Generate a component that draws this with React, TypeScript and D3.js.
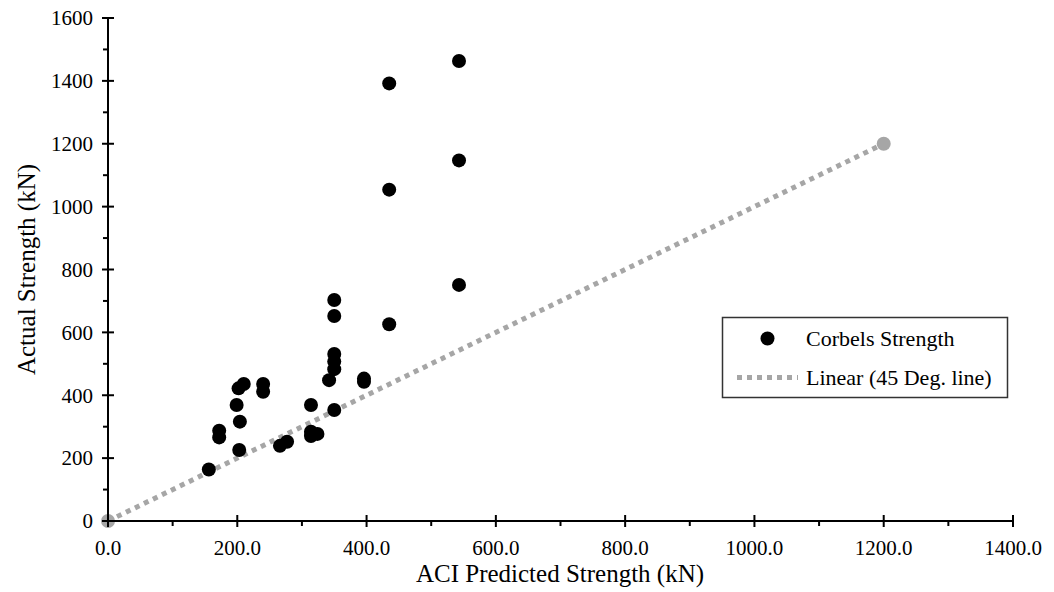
import React from "react";
import * as d3 from "d3";

const predicted = [156, 172, 172, 199, 204, 203, 202, 210, 240, 240, 266, 277, 314, 314, 324, 314, 350, 350, 350, 350, 350, 350, 342, 396, 396, 435, 435, 435, 543, 543, 543];
const actual = [164, 287, 266, 369, 316, 226, 422, 436, 436, 411, 239, 252, 369, 284, 277, 270, 703, 652, 531, 507, 483, 353, 448, 453, 443, 1392, 1054, 626, 1463, 1147, 751];
const lineX = [0, 1200];
const lineY = [0, 1200];
const xTicks = [0, 200, 400, 600, 800, 1000, 1200, 1400];
const xMinor = [100, 300, 500, 700, 900, 1100, 1300];
const yTicks = [0, 200, 400, 600, 800, 1000, 1200, 1400, 1600];
const yMinor = [100, 300, 500, 700, 900, 1100, 1300, 1500];
const seriesNames = ["Corbels Strength", "Linear (45 Deg. line)"];
const xTitle = "ACI Predicted Strength (kN)";
const yTitle = "Actual Strength (kN)";

const W = 1054;
const H = 592;
const FONT = "'Liberation Serif', 'Times New Roman', serif";
const GRAY = "#A6A6A6";

export default function App() {
  const x = d3.scaleLinear().domain([0, 1400]).range([108, 1013]);
  const y = d3.scaleLinear().domain([0, 1600]).range([521, 18]);
  const line = d3
    .line<number>()
    .x((_, i) => x(lineX[i]))
    .y((_, i) => y(lineY[i]));
  const pts = predicted.map((p, i) => ({ p, a: actual[i] }));

  return (
    <svg
      width={W}
      height={H}
      style={{ position: "absolute", left: 0, top: 0, background: "#fff", fontFamily: FONT }}
    >
      {/* trend line */}
      <path
        d={line(lineX) || ""}
        fill="none"
        stroke={GRAY}
        strokeWidth={5}
        strokeDasharray="5,5"
      />
      {lineX.map((v, i) => (
        <circle key={"le" + i} cx={x(v)} cy={y(lineY[i])} r={7} fill={GRAY} />
      ))}

      {/* axes */}
      <line x1={x(0)} x2={x(1400)} y1={y(0)} y2={y(0)} stroke="#000" strokeWidth={2} />
      <line x1={x(0)} x2={x(0)} y1={y(0)} y2={y(1600)} stroke="#000" strokeWidth={2} />
      {xTicks.map((t) => (
        <g key={"xt" + t}>
          <line x1={x(t)} x2={x(t)} y1={y(0) - 6} y2={y(0) + 6} stroke="#000" strokeWidth={2} />
          <text x={x(t)} y={555} textAnchor="middle" fontSize={21} fill="#000">
            {t.toFixed(1)}
          </text>
        </g>
      ))}
      {xMinor.map((t) => (
        <line key={"xm" + t} x1={x(t)} x2={x(t)} y1={y(0)} y2={y(0) + 5} stroke="#000" strokeWidth={2} />
      ))}
      {yTicks.map((t) => (
        <g key={"yt" + t}>
          <line x1={x(0) - 6} x2={x(0) + 6} y1={y(t)} y2={y(t)} stroke="#000" strokeWidth={2} />
          <text x={93} y={y(t)} dy="0.35em" textAnchor="end" fontSize={21} fill="#000">
            {t}
          </text>
        </g>
      ))}
      {yMinor.map((t) => (
        <line key={"ym" + t} x1={x(0) - 5} x2={x(0)} y1={y(t)} y2={y(t)} stroke="#000" strokeWidth={2} />
      ))}

      {/* points */}
      {pts.map((d, i) => (
        <circle key={"pt" + i} cx={x(d.p)} cy={y(d.a)} r={7} fill="#000" />
      ))}

      {/* titles */}
      <text x={560} y={582} textAnchor="middle" fontSize={25} fill="#000">
        {xTitle}
      </text>
      <text
        transform={`translate(35, ${y(800)}) rotate(-90)`}
        textAnchor="middle"
        fontSize={25}
        fill="#000"
      >
        {yTitle}
      </text>

      {/* legend */}
      <rect x={722.5} y={317.5} width={285} height={80} fill="#fff" stroke="#333" strokeWidth={1.5} />
      <circle cx={767.5} cy={338.5} r={7} fill="#000" />
      <text x={806} y={338.5} dy="0.35em" fontSize={22} fill="#000">
        {seriesNames[0]}
      </text>
      <line x1={737} x2={798} y1={377.5} y2={377.5} stroke={GRAY} strokeWidth={5} strokeDasharray="5,5" />
      <text x={806} y={377.5} dy="0.35em" fontSize={22} fill="#000">
        {seriesNames[1]}
      </text>
    </svg>
  );
}
